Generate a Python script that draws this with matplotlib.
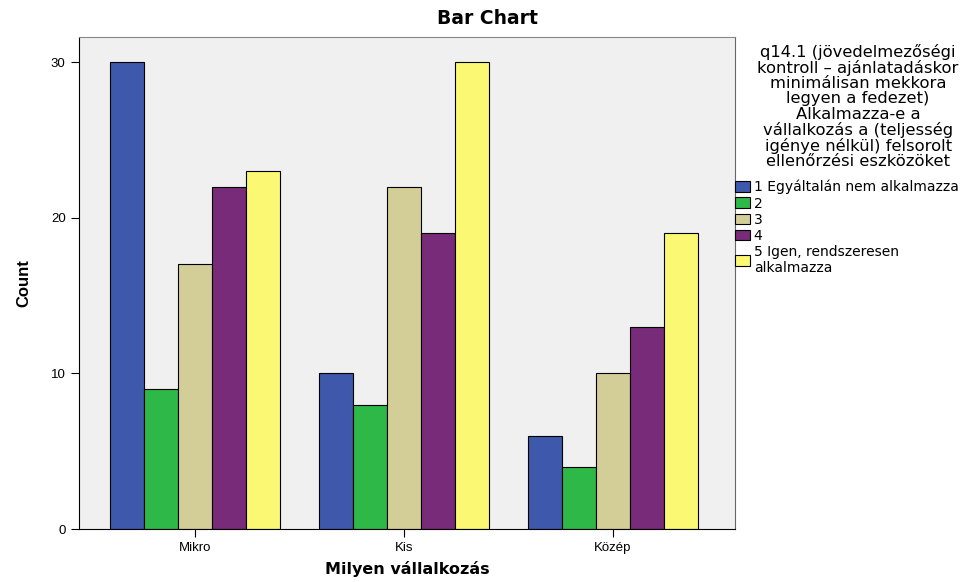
import numpy as np
import matplotlib
matplotlib.use("Agg")
import matplotlib.pyplot as plt

plt.rcParams['font.family'] = ['Liberation Sans', 'DejaVu Sans']

categories = ['Mikro', 'Kis', 'Közép']
series_names = ['1 Egyáltalán nem alkalmazza', '2', '3', '4',
                '5 Igen, rendszeresen\nalkalmazza']
values = [
    [30, 10, 6],    # 1
    [9, 8, 4],      # 2
    [17, 22, 10],   # 3
    [22, 19, 13],   # 4
    [23, 30, 19],   # 5
]
colors = ['#3E58AC', '#2EB848', '#D3CE97', '#782B78', '#FBF873']
legend_title = ('q14.1 (jövedelmezőségi\nkontroll – ajánlatadáskor\n'
                'minimálisan mekkora\nlegyen a fedezet)\nAlkalmazza-e a\n'
                'vállalkozás a (teljesség\nigénye nélkül) felsorolt\n'
                'ellenőrzési eszközöket')

fig = plt.figure(figsize=(9.74, 5.82), dpi=100)
ax = fig.add_axes([0.081, 0.091, 0.6735, 0.845])
ax.set_facecolor('#F0F0F0')

x = np.arange(len(categories))
w = 0.163
for i, (vals, c) in enumerate(zip(values, colors)):
    ax.bar(x + (i - 2) * w, vals, w, color=c, edgecolor='black',
           linewidth=0.8, label=series_names[i])

ax.set_xlim(-0.555, 2.585)
ax.set_ylim(0, 31.6)
ax.set_yticks([0, 10, 20, 30])
ax.set_xticks(x)
ax.set_xticklabels(categories)
ax.tick_params(direction='out', length=6, labelsize=9.5, colors='black')
ax.spines['top'].set_color('#888888')
ax.spines['right'].set_color('#666666')

fig.suptitle('Bar Chart', x=0.5, y=0.985, fontsize=13.5, fontweight='bold',
             family='DejaVu Sans')
ax.set_ylabel('Count', fontsize=12, fontweight='bold', labelpad=14)
ax.set_xlabel('Milyen vállalkozás', fontsize=11.5, fontweight='bold',
              family='DejaVu Sans', labelpad=5)

fig.text(0.881, 0.925, legend_title, ha='center', va='top',
         fontsize=11.8, linespacing=1.02, family='DejaVu Sans')

fig.legend(loc='upper left', bbox_to_anchor=(735 / 974, 1 - 180 / 582),
           frameon=False, handlelength=1.05, handleheight=0.8,
           handletextpad=0.3, labelspacing=0.15, borderpad=0,
           borderaxespad=0,
           prop={'family': 'DejaVu Sans', 'size': 10})

fig.savefig('out.png', dpi=100)
